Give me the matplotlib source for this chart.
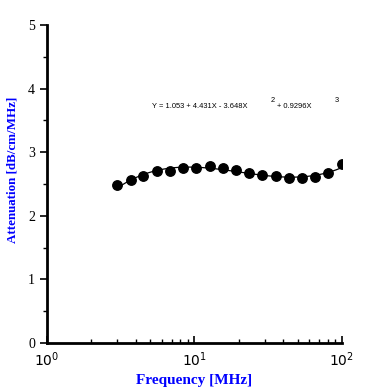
import numpy as np
import matplotlib
matplotlib.use("Agg")
import matplotlib.pyplot as plt
from matplotlib.ticker import FixedLocator, NullFormatter

# measured attenuation points
freq_mhz = [3.0, 3.7, 4.5, 5.6, 6.8, 8.4, 10.3, 12.7, 15.6, 19.2,
            23.5, 28.9, 35.5, 43.6, 53.6, 65.8, 80.8, 100.0]
atten = [2.48, 2.56, 2.62, 2.71, 2.71, 2.76, 2.76, 2.78, 2.76, 2.72,
         2.67, 2.65, 2.62, 2.60, 2.59, 2.61, 2.67, 2.81]

# fit coefficients as printed on the chart, X = log10(f)
fit_coef = [1.053, 4.431, -3.648, 0.9296]
fit_range = [3.0, 100.0]

y_ticks = [0, 1, 2, 3, 4, 5]
x_ticks = [1, 10, 100]
x_tick_labels = ["$10^0$", "$10^1$", "$10^2$"]

blue = "#0000ff"

fig = plt.figure(figsize=(3.74, 3.92), dpi=100)
ax = fig.add_axes([0.1257, 0.125, 0.7887, 0.811])

xf = np.logspace(np.log10(fit_range[0]), np.log10(fit_range[1]), 200)
lx = np.log10(xf)
yf = sum(c * lx ** i for i, c in enumerate(fit_coef))
ax.plot(xf, yf, color="black", lw=0.9, zorder=2)
ax.plot(freq_mhz, atten, "o", color="black", ms=6.8, zorder=3)

ax.set_xscale("log")
ax.set_xlim(1, 100)
ax.set_ylim(0, 5)

for s in ["top", "right"]:
    ax.spines[s].set_visible(False)
for s in ["left", "bottom"]:
    ax.spines[s].set_linewidth(2)

ax.set_yticks(y_ticks)
ax.yaxis.set_minor_locator(FixedLocator(np.arange(0.5, 5, 1.0)))
ax.set_xticks(x_ticks)
ax.set_xticklabels(x_tick_labels)
minors = [m * d for d in (1, 10) for m in range(2, 10)]
ax.xaxis.set_minor_locator(FixedLocator(minors))
ax.xaxis.set_minor_formatter(NullFormatter())

ax.tick_params(axis="y", which="major", direction="out", length=5, width=1.2)
ax.tick_params(axis="y", which="minor", direction="out", length=3, width=1)
ax.tick_params(axis="x", which="major", direction="in", length=5, width=1.2, pad=5)
ax.tick_params(axis="x", which="minor", direction="in", length=3, width=1)

for lab in ax.get_xticklabels() + ax.get_yticklabels():
    lab.set_fontfamily("Liberation Serif")
    lab.set_fontsize(10)

ax.set_xlabel("Frequency [MHz]", family="Liberation Serif", fontweight="bold",
              fontsize=11, color=blue, labelpad=4)
ax.set_ylabel("Attenuation [dB/cm/MHz]", family="Liberation Serif", fontweight="bold",
              fontsize=9.4, color=blue)
# label sits a bit above the axis centre in the original
ax.yaxis.set_label_coords(-0.095, (343 - 170) / 318)

# equation, with the odd spacing of the original
eq_kw = dict(transform=fig.transFigure, fontsize=5.4, family="Liberation Sans",
             va="center", ha="left")
fig.text(152 / 374, 1 - 106 / 392, "Y = 1.053 + 4.431X - 3.648X", **eq_kw)
fig.text(271 / 374, 1 - 101 / 392, "2", **eq_kw)
fig.text(277 / 374, 1 - 106 / 392, "+ 0.9296X", **eq_kw)
fig.text(335 / 374, 1 - 101 / 392, "3", **eq_kw)

fig.savefig("out.png", dpi=100)
